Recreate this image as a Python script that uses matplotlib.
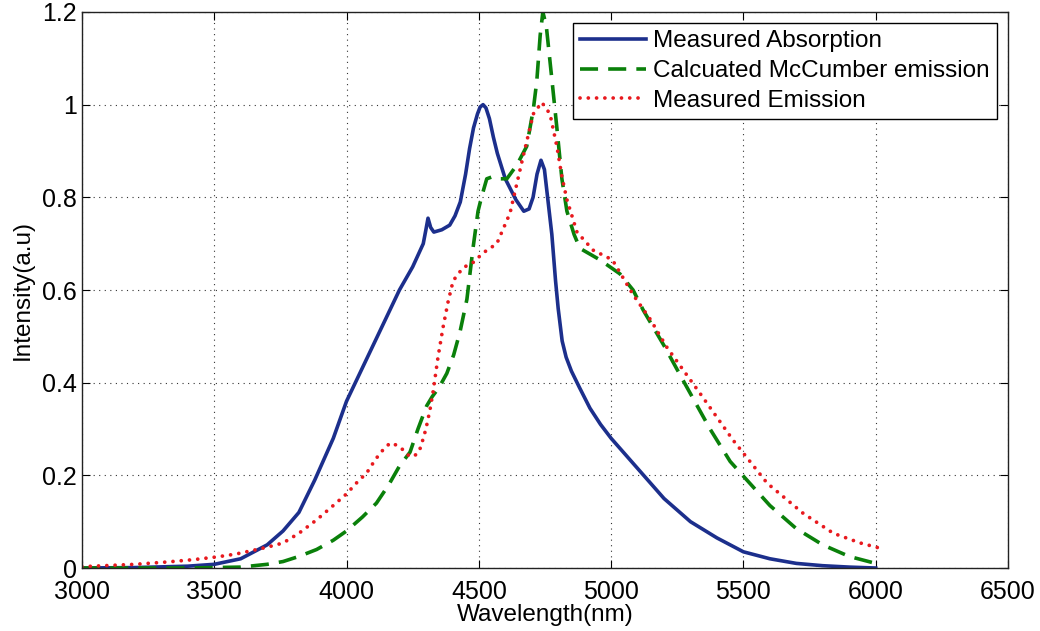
import numpy as np
import matplotlib
matplotlib.use('Agg')
import matplotlib.pyplot as plt
from matplotlib.ticker import FuncFormatter

plt.rcParams['font.family'] = ['Liberation Sans', 'DejaVu Sans']

# Measured absorption (wavelength nm, intensity)
abs_wl = [3000, 3200, 3400, 3500, 3600, 3650, 3700, 3760, 3820, 3880, 3950, 4000,
          4050, 4100, 4150, 4200, 4250, 4290, 4300, 4308, 4318, 4330, 4360, 4390,
          4410, 4430, 4450, 4465, 4480, 4495, 4505, 4516, 4527, 4540, 4555, 4570,
          4600, 4640, 4670, 4690, 4705, 4720, 4735, 4748, 4760, 4776, 4790, 4800,
          4815, 4830, 4850, 4880, 4920, 4960, 5000, 5100, 5200, 5300, 5400, 5500,
          5600, 5700, 5800, 5900, 6000]
abs_val = [0.0, 0.001, 0.004, 0.008, 0.02, 0.035, 0.05, 0.08, 0.12, 0.19, 0.28, 0.36,
           0.42, 0.48, 0.54, 0.60, 0.65, 0.70, 0.73, 0.755, 0.735, 0.725, 0.73, 0.74,
           0.76, 0.79, 0.85, 0.905, 0.95, 0.98, 0.995, 1.0, 0.993, 0.97, 0.93, 0.895,
           0.84, 0.795, 0.77, 0.775, 0.80, 0.85, 0.88, 0.86, 0.80, 0.72, 0.62, 0.56,
           0.49, 0.455, 0.425, 0.39, 0.345, 0.31, 0.28, 0.215, 0.15, 0.10, 0.065, 0.035,
           0.02, 0.01, 0.005, 0.002, 0.0]

# Calculated McCumber emission
mcc_wl = [3000, 3400, 3600, 3700, 3760, 3820, 3887, 3950, 4000, 4060, 4113, 4160,
          4200, 4240, 4270, 4303, 4324, 4350, 4379, 4405, 4429, 4455, 4478, 4497,
          4510, 4530, 4554, 4580, 4606, 4644, 4681, 4706, 4719, 4732, 4742, 4755,
          4777, 4795, 4814, 4833, 4860, 4882, 4958, 5033, 5083, 5121, 5200, 5272,
          5374, 5450, 5513, 5600, 5700, 5800, 5900, 6000]
mcc_val = [0.0, 0.0, 0.002, 0.008, 0.014, 0.025, 0.04, 0.06, 0.08, 0.11, 0.14, 0.18,
           0.22, 0.25, 0.30, 0.35, 0.37, 0.39, 0.42, 0.46, 0.51, 0.58, 0.69, 0.77,
           0.80, 0.84, 0.845, 0.84, 0.84, 0.87, 0.91, 0.99, 1.05, 1.15, 1.2, 1.17,
           1.05, 0.95, 0.84, 0.77, 0.72, 0.69, 0.665, 0.635, 0.60, 0.557, 0.48, 0.405,
           0.30, 0.23, 0.19, 0.135, 0.085, 0.05, 0.025, 0.01]

# Measured emission
em_wl = [3000, 3043, 3200, 3321, 3420, 3510, 3580, 3646, 3700, 3760, 3820, 3887,
         3940, 4000, 4040, 4076, 4110, 4138, 4165, 4190, 4214, 4240, 4265, 4280,
         4300, 4315, 4327, 4346, 4365, 4384, 4403, 4440, 4480, 4516, 4568, 4618,
         4667, 4706, 4738, 4769, 4795, 4814, 4833, 4871, 4932, 5005, 5083, 5150,
         5210, 5336, 5461, 5590, 5726, 5840, 5942, 6035]
em_val = [0.003, 0.004, 0.008, 0.013, 0.018, 0.024, 0.03, 0.038, 0.045, 0.054, 0.075, 0.104,
          0.13, 0.16, 0.185, 0.205, 0.235, 0.255, 0.27, 0.265, 0.255, 0.24, 0.245, 0.26,
          0.30, 0.34, 0.38, 0.456, 0.52, 0.575, 0.62, 0.648, 0.66, 0.68, 0.70, 0.766,
          0.887, 0.98, 1.005, 0.98, 0.91, 0.845, 0.795, 0.725, 0.686, 0.665, 0.59, 0.535,
          0.477, 0.377, 0.276, 0.183, 0.118, 0.075, 0.054, 0.04]

fig = plt.figure(figsize=(10.4, 6.31), dpi=100)
ax = fig.add_axes([0.0788, 0.0998, 0.8904, 0.8812])

ax.plot(abs_wl, abs_val, color='#1c2f8c', lw=2.6, label='Measured Absorption')
ax.plot(mcc_wl, mcc_val, color='#0a800a', lw=2.6, dashes=(5, 2.8), label='Calcuated McCumber emission')
ax.plot(em_wl, em_val, color='#e8191e', lw=2.7, linestyle=(0, (0.01, 2.2)), dash_capstyle='round',
        label='Measured Emission')

ax.set_xlim(3000, 6500)
ax.set_ylim(0, 1.2)
ax.set_xticks(np.arange(3000, 6501, 500))
ax.set_yticks(np.arange(0, 1.21, 0.2))
ax.yaxis.set_major_formatter(FuncFormatter(lambda v, p: ('%g' % round(v, 2))))
ax.grid(True, linestyle=(0, (1, 4)), color='#333333', linewidth=0.8)
ax.tick_params(direction='in', labelsize=18, length=6, top=True, right=True)
ax.tick_params(axis='x', pad=8.5)
for s in ax.spines.values():
    s.set_linewidth(1.0)
    s.set_color('#222222')

ax.set_xlabel('Wavelength(nm)', fontsize=17.5, labelpad=0)
ax.set_ylabel('Intensity(a.u)', fontsize=17.5, labelpad=6)

leg = ax.legend(loc='upper right', fontsize=17.5, fancybox=False, framealpha=1,
                edgecolor='black', handlelength=2.7, handletextpad=0.3,
                borderpad=0.3, labelspacing=0.32, borderaxespad=0.45)
leg.get_frame().set_linewidth(1.0)

fig.savefig('out.png', dpi=100)
